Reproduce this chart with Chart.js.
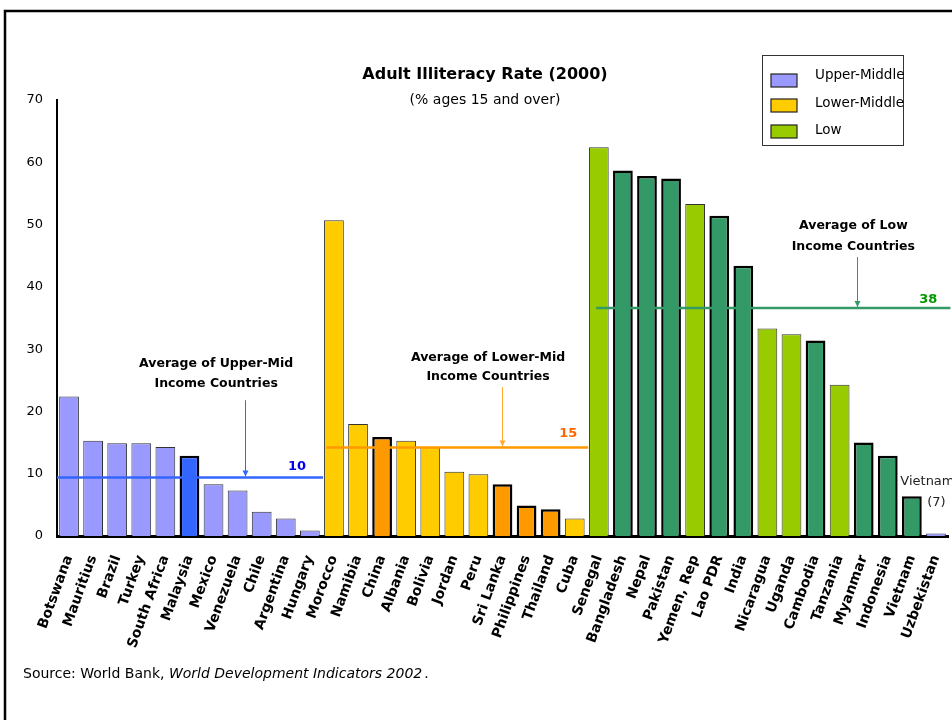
<!DOCTYPE html>
<html><head><meta charset="utf-8">
<script src="https://cdn.jsdelivr.net/npm/chart.js@4.4.1/dist/chart.umd.min.js"></script>
<style>html,body{margin:0;padding:0;background:#fff;} canvas{display:block;}</style>
</head><body>
<canvas id="c" width="952" height="720"></canvas>
<script>
// ---- data ----
const countries = ['Botswana','Mauritius','Brazil','Turkey','South Africa','Malaysia','Mexico','Venezuela','Chile','Argentina','Hungary',
  'Morocco','Namibia','China','Albania','Bolivia','Jordan','Peru','Sri Lanka','Philippines','Thailand','Cuba',
  'Senegal','Bangladesh','Nepal','Pakistan','Yemen, Rep','Lao PDR','India','Nicaragua','Uganda','Cambodia','Tanzania','Myanmar','Indonesia','Vietnam','Uzbekistan'];
const illiteracy = [22.4,15.3,14.9,14.9,14.3,12.9,8.3,7.3,3.9,2.8,0.9,
  50.7,18.0,15.9,15.3,14.3,10.3,9.9,8.3,4.9,4.3,2.8,
  62.4,58.7,57.8,57.4,53.3,51.4,43.4,33.3,32.4,31.4,24.3,15.0,12.9,6.4,0.4];
const incomeGroup = ['U','U','U','U','U','U','U','U','U','U','U',
  'L','L','L','L','L','L','L','L','L','L','L',
  'W','W','W','W','W','W','W','W','W','W','W','W','W','W','U'];
const highlighted = ['Malaysia','China','Sri Lanka','Philippines','Thailand','Bangladesh','Nepal','Pakistan','Lao PDR','India','Cambodia','Myanmar','Indonesia','Vietnam'];
const groupKeys = ['U','L','W'];
const groupNames = ['Upper-Middle','Lower-Middle','Low'];
const groupAverages = [9.4, 14.2, 36.6];
const averageLabels = ['10','15','38'];
const averageTitles = [['Average of Upper-Mid','Income Countries'],['Average of Lower-Mid','Income Countries'],['Average of Low','Income Countries']];
const yTickValues = [0,10,20,30,40,50,60,70];

// ---- styles ----
const fillNormal = {U:'#9999FF', L:'#FFCC00', W:'#99CC00'};
const fillHigh = {U:'#3366FF', L:'#FF9900', W:'#339966'};
const FONT = 'DejaVu Sans';
// annotation placement (category-index units / value units)
const avgSpans = [[-0.5,10.55],[10.68,21.56],[21.89,36.6]];
const lineColors = ['#3366FF','#FF9900','#339966'];
const arrowColors = ['#3366FF','#FFAA33','#339966'];
const valueColors = ['#0000EE','#FF6600','#009900'];
const arrowX = [7.31, 18.0, 32.74];
const arrowTop = [21.8, 23.9, 44.8];
const textX = [6.11, 17.4, 32.57];
const textY = [[27.6,24.4],[28.6,25.5],[49.8,46.4]];
const valX = [9.47, 20.73, 35.68];
const valY = [11.1, 16.4, 38.0];

const isHigh = countries.map(c => highlighted.includes(c));
const fills = incomeGroup.map((g,i) => isHigh[i] ? fillHigh[g] : fillNormal[g]);
const borders = incomeGroup.map((g,i) => isHigh[i] ? '#000' : (countries[i]==='Uzbekistan' ? '#333366' : '#333'));
const bw = isHigh.map(h => h ? 2.5 : 1);

const annot = {
  id:'annot',
  afterDatasetsDraw(chart){
    const {ctx, scales:{x,y}} = chart;
    const ix = v => x.getPixelForValue(0) + v * (x.getPixelForValue(1) - x.getPixelForValue(0));
    ctx.save();
    for (let k=0;k<3;k++){
      const yy = y.getPixelForValue(groupAverages[k]);
      ctx.strokeStyle = lineColors[k]; ctx.lineWidth = 2.5;
      ctx.beginPath(); ctx.moveTo(ix(avgSpans[k][0]), yy); ctx.lineTo(ix(avgSpans[k][1]), yy); ctx.stroke();
      // arrow
      const ax = Math.round(ix(arrowX[k]))+0.5, at = y.getPixelForValue(arrowTop[k]);
      ctx.strokeStyle = arrowColors[k]; ctx.fillStyle = arrowColors[k]; ctx.lineWidth = 1;
      ctx.beginPath(); ctx.moveTo(ax, at); ctx.lineTo(ax, yy-1); ctx.stroke();
      ctx.beginPath(); ctx.moveTo(ax-3, yy-7); ctx.lineTo(ax+3, yy-7); ctx.lineTo(ax, yy-1); ctx.closePath(); ctx.fill();
      // text
      ctx.fillStyle = '#000'; ctx.font = 'bold 12.5px "'+FONT+'"'; ctx.textAlign='center'; ctx.textBaseline='middle';
      averageTitles[k].forEach((t,j)=> ctx.fillText(t, ix(textX[k]), y.getPixelForValue(textY[k][j])));
      ctx.fillStyle = valueColors[k]; ctx.font = 'bold 13px "'+FONT+'"';
      ctx.fillText(averageLabels[k], ix(valX[k]), y.getPixelForValue(valY[k]));
    }
    // Vietnam note
    ctx.fillStyle = '#222'; ctx.font = '13px "'+FONT+'"'; ctx.textAlign='left';
    ctx.fillText('Vietnam', ix(34.52), y.getPixelForValue(8.7));
    ctx.textAlign='center';
    ctx.fillText('(7)', ix(36.02), y.getPixelForValue(5.3));
    ctx.restore();
  },
  afterDraw(chart){
    const ctx = chart.ctx;
    ctx.save();
    ctx.fillStyle='#000'; ctx.textAlign='center'; ctx.textBaseline='middle';
    ctx.font = 'bold 16px "'+FONT+'"';
    ctx.fillText('Adult Illiteracy Rate (2000)', 485, 75);
    ctx.font = '14px "'+FONT+'"';
    ctx.fillText('(% ages 15 and over)', 485, 100);
    // legend
    ctx.strokeStyle='#333'; ctx.lineWidth=1;
    ctx.strokeRect(762.5, 55.5, 141, 90);
    const sy0 = [80.5, 105.5, 131.5];
    const ty0 = [75, 103, 130];
    ctx.textAlign='left'; ctx.font='13.5px "'+FONT+'"';
    groupKeys.forEach((g,i)=>{
      ctx.fillStyle = fillNormal[g]; ctx.fillRect(771, sy0[i]-6.5, 26, 13);
      ctx.strokeStyle='#222'; ctx.lineWidth=1.2; ctx.strokeRect(771, sy0[i]-6.5, 26, 13);
      ctx.fillStyle='#000'; ctx.fillText(groupNames[i], 815, ty0[i]);
    });
    // source
    ctx.font = '14px "'+FONT+'"'; ctx.textBaseline='alphabetic';
    let sx = 23; const sy = 678;
    const p1 = 'Source: World Bank, ';
    ctx.fillText(p1, sx, sy); sx += ctx.measureText(p1).width;
    ctx.font = 'italic 14px "'+FONT+'"';
    const p2 = 'World Development Indicators 2002';
    ctx.fillText(p2, sx, sy); sx += ctx.measureText(p2).width + 2;
    ctx.font = '14px "'+FONT+'"';
    ctx.fillText('.', sx, sy);
    // frame
    ctx.strokeStyle='#000'; ctx.lineWidth=2.5;
    ctx.strokeRect(5, 11, 1000, 1000);
    ctx.restore();
  }
};

const bg = { id:'bg', beforeDraw(chart){ const c=chart.ctx; c.save(); c.fillStyle='#fff'; c.fillRect(0,0,chart.width,chart.height); c.restore(); } };

new Chart(document.getElementById('c'), {
  type:'bar',
  data:{ labels: countries, datasets:[{ label:'Adult illiteracy rate', data: illiteracy,
    backgroundColor: fills, borderColor: borders, borderWidth: bw,
    barPercentage:0.82, categoryPercentage:1 }]},
  options:{
    responsive:false, animation:false, devicePixelRatio:1,
    layout:{padding:{left:0,right:4,top:100,bottom:0}},
    plugins:{legend:{display:false}, tooltip:{enabled:false}, title:{display:false}},
    scales:{
      x:{ grid:{display:false, drawTicks:false}, border:{display:true,color:'#000',width:3},
        ticks:{ font:{family:FONT,size:14,weight:'bold'}, color:'#000', maxRotation:70, minRotation:70, autoSkip:false, padding:17 },
        afterFit(s){ s.height = 184; s.paddingLeft = 0; s.paddingRight = 0; } },
      y:{ min:0, max:70, afterBuildTicks(s){ s.ticks = yTickValues.map(v=>({value:v})); },
        ticks:{ font:{family:FONT,size:13}, color:'#000', padding:14 },
        grid:{display:false, drawTicks:false}, border:{display:true,color:'#000',width:2},
        afterFit(s){ s.width = 57; s.paddingTop = 0; s.paddingBottom = 0; } }
    }
  },
  plugins:[bg, annot]
});
</script>
</body></html>
